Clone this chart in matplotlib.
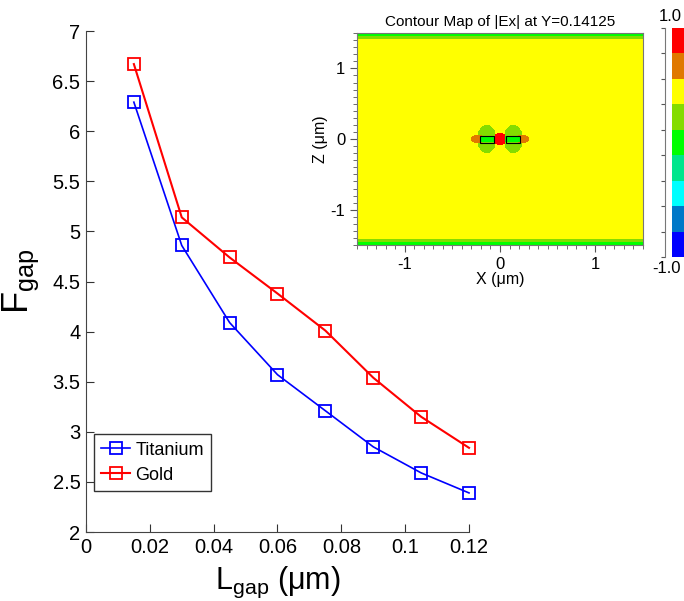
import numpy as np
import matplotlib
matplotlib.use("Agg")
import matplotlib.pyplot as plt
from matplotlib.colors import ListedColormap, BoundaryNorm
from matplotlib.patches import Rectangle

plt.rcParams['font.family'] = ['Liberation Sans', 'DejaVu Sans']
plt.rcParams['mathtext.fontset'] = 'custom'
plt.rcParams['mathtext.rm'] = 'Liberation Sans'
plt.rcParams['axes.unicode_minus'] = False

# main curves
l_gap = [0.015, 0.03, 0.045, 0.06, 0.075, 0.09, 0.105, 0.12]
f_titanium = [6.29, 4.86, 4.09, 3.57, 3.21, 2.85, 2.59, 2.39]
f_gold = [6.67, 5.14, 4.74, 4.38, 4.01, 3.54, 3.15, 2.84]
x_ticks = [0, 0.02, 0.04, 0.06, 0.08, 0.1, 0.12]
x_labels = ['0', '0.02', '0.04', '0.06', '0.08', '0.1', '0.12']
y_ticks = [2, 2.5, 3, 3.5, 4, 4.5, 5, 5.5, 6, 6.5, 7]
y_labels = ['2', '2.5', '3', '3.5', '4', '4.5', '5', '5.5', '6', '6.5', '7']

# inset field: colour levels (index into level_colors), regions in draw order
level_colors = ['#0000ff', '#0078c8', '#00ffff', '#00e68c', '#00ff00',
                '#84dc00', '#ffff00', '#e07800', '#ff0000']
background_level = 6
edge_bands = [(1.42, 5), (1.46, 4)]            # |z| beyond -> level
lobe_ellipses = [(-0.14, 0.0, 0.10, 0.20, 5), (0.14, 0.0, 0.10, 0.20, 5),
                 (-0.23, 0.0, 0.08, 0.06, 7), (0.23, 0.0, 0.08, 0.06, 7),
                 (0.0, 0.0, 0.07, 0.09, 8)]    # cx, cz, ax, az, level
rods = [(-0.21, -0.05, 0.15, 0.10), (0.06, -0.05, 0.15, 0.10)]  # x, z, w, h
rod_level = 4

fig = plt.figure(figsize=(6.84, 6.01), dpi=100)

ax = fig.add_axes([0.1257, 0.1148, 0.56, 0.8336])
ax.plot(l_gap, f_titanium, color='#0000ff', lw=1.2, marker='s', ms=9,
        mfc='none', mec='#0000ff', mew=1.3, label='Titanium', clip_on=False)
ax.plot(l_gap, f_gold, color='#ff0000', lw=1.5, marker='s', ms=9,
        mfc='none', mec='#ff0000', mew=1.3, label='Gold', clip_on=False)
ax.set_xlim(0, 0.12)
ax.set_ylim(2, 7)
ax.set_xticks(x_ticks)
ax.set_xticklabels(x_labels)
ax.set_yticks(y_ticks)
ax.set_yticklabels(y_labels)
ax.tick_params(direction='in', labelsize=14.5, length=6, color='#333333', pad=4)
for s in ['top', 'right']:
    ax.spines[s].set_visible(False)
for s in ['left', 'bottom']:
    ax.spines[s].set_color('#444444')
ax.set_xlabel(r'$\mathrm{L_{gap}}$ (μm)', fontsize=22, labelpad=6)
ax.set_ylabel(r'$\mathrm{F_{gap}}$', fontsize=26, labelpad=8)
leg = ax.legend(loc='lower left', bbox_to_anchor=(0.021, 0.082), fontsize=13,
                fancybox=False, edgecolor='#333333', framealpha=1,
                handlelength=1.6, borderpad=0.4, labelspacing=0.45,
                handletextpad=0.3, borderaxespad=0)
leg.get_frame().set_linewidth(1.0)

# inset contour map
xs = np.linspace(-1.5, 1.5, 601)
zs = np.linspace(-1.5, 1.5, 601)
X, Z = np.meshgrid(xs, zs)
lev = np.full(X.shape, background_level)
for zcut, l in edge_bands:
    lev[np.abs(Z) > zcut] = l
for cx, cz, a, b, l in lobe_ellipses:
    lev[((X - cx) / a) ** 2 + ((Z - cz) / b) ** 2 <= 1] = l
for rx, rz, w, h in rods:
    lev[(X >= rx) & (X <= rx + w) & (Z >= rz) & (Z <= rz + h)] = rod_level

cmap = ListedColormap(level_colors)
norm = BoundaryNorm(np.arange(-0.5, 9.5, 1), cmap.N)

ins = fig.add_axes([0.522, 0.5923, 0.418, 0.3527])
ins.imshow(lev, cmap=cmap, norm=norm, extent=[-1.5, 1.5, -1.5, 1.5],
           origin='lower', aspect='auto', interpolation='nearest')
for rx, rz, w, h in rods:
    ins.add_patch(Rectangle((rx, rz), w, h, fill=False, ec='black', lw=0.8))
ins.set_xlim(-1.5, 1.5)
ins.set_ylim(-1.5, 1.5)
ins.set_xticks([-1, 0, 1])
ins.set_yticks([-1, 0, 1])
ins.set_xticks(np.arange(-1.5, 1.51, 0.1), minor=True)
ins.set_yticks(np.arange(-1.5, 1.51, 0.1), minor=True)
ins.tick_params(which='major', direction='out', length=5, labelsize=12, color='#555555')
ins.tick_params(which='minor', direction='out', length=3, color='#555555')
for s in ins.spines.values():
    s.set_color('#777777')
ins.set_xlabel('X (μm)', fontsize=11.5, labelpad=0)
ins.set_ylabel('Z (μm)', fontsize=11.5, labelpad=2)
ins.set_title('Contour Map of |Ex| at Y=0.14125', fontsize=11, pad=5)

# colorbar
cb = fig.add_axes([0.972, 0.5724, 0.028, 0.381])
cb.imshow(np.arange(9).reshape(-1, 1), cmap=cmap, norm=norm, origin='lower',
          extent=[0.38, 1.0, 0, 9], aspect='auto', interpolation='nearest')
cb.set_xlim(0, 1)
cb.set_ylim(0, 9)
cb.set_xticks([])
cb.set_yticks(np.arange(0, 10, 1))
cb.set_yticklabels([])
cb.tick_params(axis='y', direction='out', length=3, color='#555555')
for s in ['top', 'right', 'bottom']:
    cb.spines[s].set_visible(False)
cb.spines['left'].set_color('#777777')
fig.text(0.980, 0.972, '1.0', fontsize=12, ha='center', va='center')
fig.text(0.975, 0.553, '-1.0', fontsize=12, ha='center', va='center')

fig.savefig('out.png', dpi=100)
